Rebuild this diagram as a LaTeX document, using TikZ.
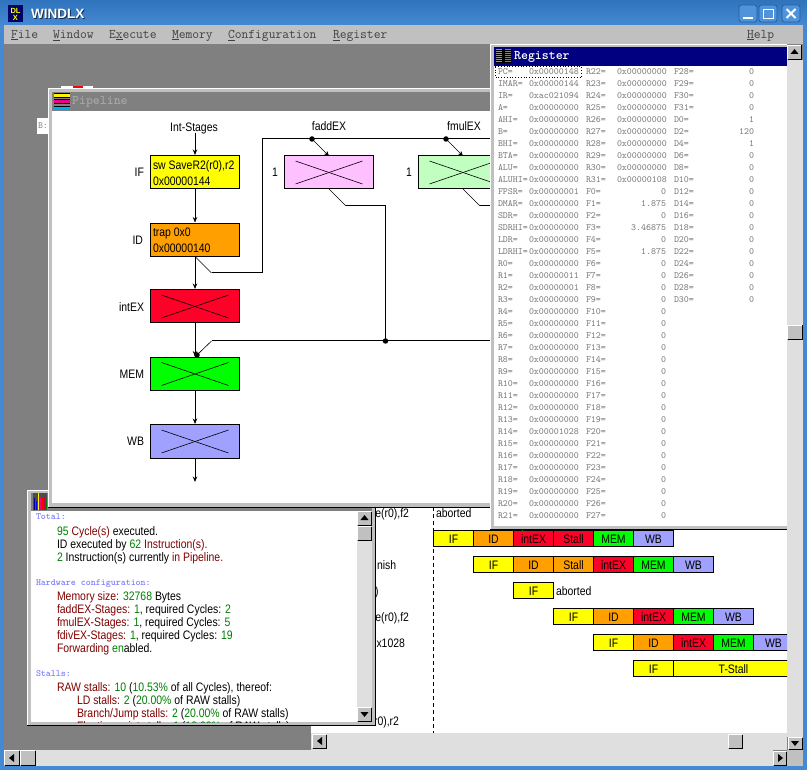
\documentclass[tikz,border=0pt]{standalone}
\usepackage{fontspec}
\setmainfont[FakeStretch=0.85]{Liberation Sans}
\newfontfamily\titlefont{Liberation Sans}
\usetikzlibrary{arrows.meta,shapes.geometric}
\definecolor{desk}{HTML}{808080}
\definecolor{face}{HTML}{C0C0C0}
\definecolor{stip}{HTML}{DFDFDF}
\definecolor{cif}{HTML}{FFFF00}
\definecolor{cid}{HTML}{FFA000}
\definecolor{cex}{HTML}{FF0028}
\definecolor{cmem}{HTML}{00FF00}
\definecolor{cwb}{HTML}{A0A0FF}
\definecolor{cadd}{HTML}{FFC0FF}
\definecolor{cmul}{HTML}{C0FFC0}
\definecolor{dg}{HTML}{008000}
\definecolor{dr}{HTML}{800000}
\definecolor{hdr}{HTML}{7C7CFF}
\definecolor{reg}{HTML}{747474}
\definecolor{navy}{HTML}{000080}
\definecolor{tb1}{HTML}{2F73BC}
\definecolor{tb2}{HTML}{4689D3}
\definecolor{tbtn}{HTML}{4F93DC}
\newcommand{\sfz}{\fontsize{12.3}{14}\selectfont}
\newcommand{\regf}{\ttfamily\fontsize{9.5}{11}\selectfont}
\newcommand{\menuf}{\ttfamily\fontsize{13.2}{15}\selectfont}
\newcommand{\grn}[1]{\textcolor{dg}{#1}}
\newcommand{\drd}[1]{\textcolor{dr}{#1}}
\newcommand{\bevel}[4]{%
  \fill[face] (#1,#2) rectangle ++(#3,#4);
  \draw[white,line width=1pt] (#1+.5,#2+#4-1) -- (#1+.5,#2+.5) -- (#1+#3-1,#2+.5);
  \draw[black,line width=1pt] (#1+.5,#2+#4-.5) -- (#1+#3-.5,#2+#4-.5) -- (#1+#3-.5,#2+.5);
}
\tikzset{
  txt/.style={inner sep=0pt,outer sep=0pt,anchor=west,font=\sfz,text height=9pt,text depth=0pt},
  txtr/.style={txt,anchor=east},
  txtc/.style={txt,anchor=center},
  regt/.style={inner sep=0pt,outer sep=0pt,anchor=west,font=\regf,text=reg,text height=5.6pt,text depth=0pt},
  regr/.style={regt,anchor=east},
  hdrt/.style={regt,text=hdr,font=\regf\bfseries},
  menut/.style={inner sep=0pt,outer sep=0pt,anchor=west,font=\menuf,text=black!75,text height=6.5pt,text depth=0pt},
  pipebox/.style={draw=black,line width=1pt,minimum width=89pt,minimum height=33pt,inner sep=0pt,outer sep=0pt,anchor=center},
  crossed/.style={path picture={
    \draw[line width=.6pt] ([shift={(11,5)}]path picture bounding box.north west) -- ([shift={(-11,-5)}]path picture bounding box.south east);
    \draw[line width=.6pt] ([shift={(11,-5)}]path picture bounding box.south west) -- ([shift={(-11,5)}]path picture bounding box.north east);}},
  flow/.style={line width=1pt,-{Stealth[length=5.5pt,width=4.5pt]},shorten >=1pt},
  bus/.style={line width=1pt},
  thin diag/.style={line width=.6pt},
  tap/.style={line width=.6pt,-{Stealth[length=5pt,width=4.5pt]}},
  junc/.style={circle,fill=black,inner sep=0pt,minimum size=5.5pt,outer sep=0pt},
  cell/.style={draw=black,line width=1pt,minimum height=16pt,inner sep=0pt,outer sep=0pt,anchor=north west,font=\sfz,text height=9pt,text depth=0pt},
}
\begin{document}
\begin{tikzpicture}[x=1pt,y=-1pt]
\useasboundingbox (0,0) rectangle (807,770);
% main window frame
\fill[tb2] (0,0) rectangle (807,770);
\shade[top color=tb1,bottom color=tb2] (0,0) rectangle (807,25);
\fill[desk] (4,44) rectangle (803,766);
\fill[face] (4,25) rectangle (803,44);
% title
\node[inner sep=0pt,anchor=west,font=\titlefont\bfseries\fontsize{13.5}{15}\selectfont,text=black!60!tb1,text height=9.5pt,text depth=0pt] (titleshadow) at (32,14.5) {WINDLX};
\node[inner sep=0pt,anchor=west,font=\titlefont\bfseries\fontsize{13.5}{15}\selectfont,text=white,text height=9.5pt,text depth=0pt] (titletext) at (31,13.5) {WINDLX};
% app icon
\fill[navy!80!black] (8,5) rectangle (23,22);
\node[inner sep=0pt,font=\titlefont\bfseries\fontsize{7.5}{8}\selectfont,text=cif] (icdl) at (15.5,10.5) {DL};
\node[inner sep=0pt,font=\titlefont\bfseries\fontsize{7.5}{8}\selectfont,text=cif] (icx) at (15.5,17.5) {X};
% window buttons
\foreach \bx in {739,759,782}{\draw[tb1!80!black,fill=tbtn,rounded corners=2.5pt,line width=.7pt] (\bx,5) rectangle ++(18,17);}
\fill[white] (743,17) rectangle (753,19);
\draw[white,line width=1pt] (763.5,9.5) rectangle (773.5,18.5);
\draw[white,line width=1.3pt] (763.5,9.5) -- (773.5,9.5);
\draw[white,line width=2pt] (786.5,9) -- (795.5,18) (795.5,9) -- (786.5,18);
% menu
\node[menut] (mfile) at (11,35) {\underline{F}ile};
\node[menut] (mwin) at (53,35) {\underline{W}indow};
\node[menut] (mexe) at (109,35) {E\underline{x}ecute};
\node[menut] (mmem) at (172,35) {\underline{M}emory};
\node[menut] (mconf) at (228,35) {\underline{C}onfiguration};
\node[menut] (mreg) at (333,35) {\underline{R}egister};
\node[menut] (mhelp) at (747,35) {\underline{H}elp};
% MDI scrollbars
\fill[stip] (787,60) rectangle (803,737);
\bevel{787}{45}{15}{15}
\fill[black] (794.5,49) -- (798.5,54) -- (790.5,54) -- cycle;
\bevel{787}{325}{16}{15}
\bevel{788}{737}{15}{13}
\fill[black] (791,741) -- (799,741) -- (795,746) -- cycle;
\fill[stip] (4,750) rectangle (773,766);
\bevel{4}{750}{16}{16}
\fill[black] (9,758) -- (14,754) -- (14,762) -- cycle;
\bevel{20}{750}{16}{16}
\bevel{773}{751}{14}{15}
\fill[black] (778,754) -- (778,762) -- (783,758) -- cycle;
\fill[face] (787,750) rectangle (803,766);
% windows behind the Pipeline window
\fill[white] (61,86) rectangle (93,90);
\fill[red] (73,86) rectangle (83,88);
\fill[white] (37,118) rectangle (50,134);
\node[regt,text=black!50] (bcrumb) at (38,125.5) {B:};
% clock-cycle window
\fill[white] (311,480) rectangle (787,733);
\fill[stip] (311,733) rectangle (787,750);
\bevel{312}{734}{15}{15}
\fill[black] (322,737) -- (322,745) -- (317,741) -- cycle;
\bevel{728}{734}{15}{15}
\draw[black,line width=1pt,dash pattern=on 4pt off 3pt] (433.5,507) -- (433.5,733);
\node[txtr] (lab1) at (409,513) {e(r0),f2};
\node[txt] (ab1) at (436,513) {aborted};
\node[txt] (lab2) at (377,565) {nish};
\node[txt] (lab3) at (375,591) {)};
\node[txtr] (lab4) at (409,617) {e(r0),f2};
\node[txtr] (lab5) at (405,643) {x1028};
\node[txtr] (lab6) at (399,721) {r0),r2};
\begin{scope}
\clip (311,505) rectangle (787,733);
\foreach \cx/\cy/\ct/\cc [count=\n] in {
  433/530/IF/cif,473/530/ID/cid,513/530/intEX/cex,553/530/Stall/cex,593/530/MEM/cmem,633/530/WB/cwb,
  473/556/IF/cif,513/556/ID/cid,553/556/Stall/cid,593/556/intEX/cex,633/556/MEM/cmem,673/556/WB/cwb,
  513/582/IF/cif,
  553/608/IF/cif,593/608/ID/cid,633/608/intEX/cex,673/608/MEM/cmem,713/608/WB/cwb,
  593/634/IF/cif,633/634/ID/cid,673/634/intEX/cex,713/634/MEM/cmem,753/634/WB/cwb,
  633/660/IF/cif}{
  \node[cell,fill=\cc,minimum width=40pt] (cell\n) at (\cx.5,\cy.5) {\ct};
}
\node[cell,fill=cif,minimum width=120pt] (tstall) at (673.5,660.5) {T-Stall};
\end{scope}
\node[txt] (ab2) at (556,591) {aborted};
% statistics window
\fill[face] (27,490) rectangle (375,725);
\draw[white,line width=1pt] (27.5,725) -- (27.5,490.5) -- (375,490.5);
\draw[black,line width=1pt] (27,725.5) -- (375.5,725.5) -- (375.5,490);
\fill[desk] (31,493) rectangle (372,511);
\fill[white] (31,511) rectangle (357,722);
\fill[black!70] (33,493) rectangle (47,510);
\foreach \sx/\sy/\sc in {34/498/navy,36/501/blue,38/493/yellow,40/497/magenta,42/497/red,44/497/purple,46/500/dg}{
  \fill[\sc] (\sx,\sy) rectangle (\sx+1.3,510);
}
\fill[stip] (357,526) rectangle (372,707);
\bevel{357}{511}{15}{15}
\fill[black] (364.5,515) -- (368.5,520) -- (360.5,520) -- cycle;
\bevel{357}{526}{15}{15}
\bevel{357}{707}{15}{15}
\fill[black] (360.5,712) -- (368.5,712) -- (364.5,717) -- cycle;
\begin{scope}
\clip (31,511) rectangle (357,722);
\node[hdrt] (s1) at (36,517) {Total:};
\node[txt] (s2) at (57,531) {\grn{95} \drd{Cycle(s)} executed.};
\node[txt] (s3) at (57,544) {ID executed by \grn{62} \drd{Instruction(s).}};
\node[txt] (s4) at (57,557) {\grn{2} Instruction(s) currently \drd{in Pipeline.}};
\node[hdrt] (s5) at (36,582.5) {Hardware configuration:};
\node[txt] (s6) at (57,596) {\drd{Memory size:} \grn{32768} Bytes};
\node[txt] (s7) at (57,609) {\drd{faddEX-Stages:} \grn{1}, required Cycles: \grn{2}};
\node[txt] (s8) at (57,622) {\drd{fmulEX-Stages:} \grn{1}, required Cycles: \grn{5}};
\node[txt] (s9) at (57,635) {\drd{fdivEX-Stages:} \grn{1}, required Cycles: \grn{19}};
\node[txt] (s10) at (57,648) {\drd{Forwarding} \grn{en}abled.};
\node[hdrt] (s11) at (36,673.5) {Stalls:};
\node[txt] (s12) at (57,687) {\drd{RAW stalls:} \grn{10} (\grn{10.53\%} of all Cycles), thereof:};
\node[txt] (s13) at (77,700) {\drd{LD stalls:} \grn{2} (\grn{20.00\%} of RAW stalls)};
\node[txt] (s14) at (77,713) {\drd{Branch/Jump stalls:} \grn{2} (\grn{20.00\%} of RAW stalls)};
\node[txt] (s15) at (77,726) {\drd{Floating point stalls:} \grn{1} (\grn{10.00\%} of RAW stalls)};
\end{scope}
% Pipeline window
\fill[face] (48,88) rectangle (495,507);
\draw[white,line width=1pt] (48.5,507) -- (48.5,88.5) -- (495,88.5);
\draw[black,line width=1pt] (48,507.5) -- (495,507.5);
\fill[desk] (52,92) rectangle (495,111);
\fill[white] (52,111) rectangle (495,503);
\fill[yellow] (54,93) rectangle (70,97);
\draw[black,line width=.6pt] (54,93) -- (70,93);
\fill[magenta] (54,99) rectangle (70,103);
\draw[black,line width=.6pt] (54,99) -- (70,99) (54,103) -- (70,103) (54,97) -- (70,97);
\fill[cyan] (54,106) rectangle (70,109);
\draw[black,line width=.6pt] (54,106) -- (70,106);
\node[inner sep=0pt,anchor=west,font=\ttfamily\bfseries\fontsize{13.2}{15}\selectfont,text=black!35,text height=7pt,text depth=0pt] (pipetitle) at (72,101) {Pipeline};
\begin{scope}
\clip (52,111) rectangle (495,503);
% stage labels
\node[txtc] (hint) at (194,127) {Int-Stages};
\node[txtc] (hadd) at (329,126.5) {faddEX};
\node[txtc] (hmul) at (464,126.5) {fmulEX};
\node[txtr] (lif) at (144,172.5) {IF};
\node[txtr] (lid) at (143,240) {ID};
\node[txtr] (lex) at (144,307.5) {intEX};
\node[txtr] (lmem) at (144,374.5) {MEM};
\node[txtr] (lwb) at (144,441.5) {WB};
\node[txtc] (n1a) at (275,172.5) {1};
\node[txtc] (n1m) at (409,172.5) {1};
% boxes
\node[pipebox,fill=cif] (if) at (195,172.5) {};
\node[pipebox,fill=cid] (id) at (195,240) {};
\node[pipebox,fill=cex,crossed] (ex) at (195,306.5) {};
\node[pipebox,fill=cmem,crossed] (mem) at (195,374) {};
\node[pipebox,fill=cwb,crossed] (wb) at (195,441.5) {};
\node[pipebox,fill=cadd,crossed] (fadd) at (329,172.5) {};
\node[pipebox,fill=cmul,crossed] (fmul) at (463,172.5) {};
\node[txt] (iftx1) at (153,165) {sw SaveR2(r0),r2};
\node[txt] (iftx2) at (153,181.5) {0x00000144};
\node[txt] (idtx1) at (153,232) {trap 0x0};
\node[txt] (idtx2) at (153,248.5) {0x00000140};
% connectors
\coordinate (intop) at (195,133);
\coordinate (wbout) at (195,482);
\coordinate (j1) at (211.5,273);
\coordinate (j2) at (262.5,273);
\coordinate (j3) at (262.5,139);
\coordinate (busr) at (497,139);
\coordinate (d1) at (312,139);
\coordinate (d2) at (446,139);
\coordinate (a1) at (346,206);
\coordinate (a2) at (385.5,206);
\coordinate (d3) at (385.5,341);
\coordinate (m1) at (211.5,341);
\coordinate (m2) at (197,355);
\coordinate (retr) at (497,341);
\coordinate (b1) at (480,206);
\coordinate (b2) at (497,206);
\draw[flow] (intop) -- (if.north);
\draw[flow] (if) -- (id);
\draw[flow] (id) -- (ex);
\draw[flow] (ex) -- (mem);
\draw[flow] (mem) -- (wb);
\draw[flow,shorten >=0pt] (wb) -- (wbout);
\draw[thin diag] (id.south) -- (j1);
\draw[bus] (j1) -- (j2) -- (j3) -- (busr);
\draw[tap] (d1) -- (fadd.north);
\draw[tap] (d2) -- (fmul.north);
\draw[thin diag] (fadd.south) -- (a1);
\draw[bus] (a1) -- (a2) -- (d3);
\draw[thin diag] (fmul.south) -- (b1);
\draw[bus] (b1) -- (b2);
\draw[bus] (retr) -- (m1);
\draw[thin diag] (m1) -- (m2);
\node[junc] (jd1) at (d1) {};
\node[junc] (jd2) at (d2) {};
\node[junc] (jd3) at (d3) {};
\node[junc] (jm) at (m2) {};
\end{scope}
% Register window
\fill[face] (490,44) rectangle (787,529);
\draw[white,line width=1pt] (490.5,529) -- (490.5,44.5) -- (787,44.5);
\draw[black,line width=1pt] (490,529) -- (787,529);
\fill[navy] (494,47) rectangle (787,66);
\fill[white] (494,66) rectangle (787,526);
\fill[black] (496,49) rectangle (511,63);
\foreach \ry in {49.5,51.5,...,62}{
  \fill[cmem] (496,\ry) rectangle (501.5,\ry+1);
  \fill[cyan] (505,\ry) rectangle (511,\ry+1);
}
\node[inner sep=0pt,anchor=west,font=\ttfamily\bfseries\fontsize{13.2}{15}\selectfont,text=white,text height=7pt,text depth=0pt] (regtitle) at (514,56) {Register};
\draw[black,line width=.8pt,dotted] (495,66.8) rectangle (581.5,77.5);
\foreach \la/\va [count=\i from 0] in {
 PC=/0x00000148,IMAR=/0x00000144,IR=/0xac021094,A=/0x00000000,AHI=/0x00000000,B=/0x00000000,BHI=/0x00000000,BTA=/0x00000000,ALU=/0x00000000,ALUHI=/0x00000000,FPSR=/0x00000001,DMAR=/0x00000000,SDR=/0x00000000,SDRHI=/0x00000000,LDR=/0x00000000,LDRHI=/0x00000000,
 R0=/0x00000000,R1=/0x00000011,R2=/0x00000001,R3=/0x00000000,R4=/0x00000000,R5=/0x00000000,R6=/0x00000000,R7=/0x00000000,R8=/0x00000000,R9=/0x00000000,R10=/0x00000000,R11=/0x00000000,R12=/0x00000000,R13=/0x00000000,R14=/0x00001028,R15=/0x00000000,R16=/0x00000000,R17=/0x00000000,R18=/0x00000000,R19=/0x00000000,R20=/0x00000000,R21=/0x00000000}{
  \node[regt] (al\i) at (498,{72+12*\i}) {\la};
  \node[regt] (av\i) at (529,{72+12*\i}) {\va};
}
\foreach \la/\va [count=\i from 0] in {
 R22=/0x00000000,R23=/0x00000000,R24=/0x00000000,R25=/0x00000000,R26=/0x00000000,R27=/0x00000000,R28=/0x00000000,R29=/0x00000000,R30=/0x00000000,R31=/0x00000108}{
  \node[regt] (bl\i) at (586,{72+12*\i}) {\la};
  \node[regt] (bv\i) at (617,{72+12*\i}) {\va};
}
\foreach \la/\va [count=\i from 10] in {
 F0=/0,F1=/1.875,F2=/0,F3=/3.46875,F4=/0,F5=/1.875,F6=/0,F7=/0,F8=/0,F9=/0,F10=/0,F11=/0,F12=/0,F13=/0,F14=/0,F15=/0,F16=/0,F17=/0,F18=/0,F19=/0,F20=/0,F21=/0,F22=/0,F23=/0,F24=/0,F25=/0,F26=/0,F27=/0}{
  \node[regt] (bl\i) at (586,{72+12*\i}) {\la};
  \node[regr] (bv\i) at (666,{72+12*\i}) {\va};
}
\foreach \la/\va [count=\i from 0] in {
 F28=/0,F29=/0,F30=/0,F31=/0,D0=/1,D2=/120,D4=/1,D6=/0,D8=/0,D10=/0,D12=/0,D14=/0,D16=/0,D18=/0,D20=/0,D22=/0,D24=/0,D26=/0,D28=/0,D30=/0}{
  \node[regt] (cl\i) at (674,{72+12*\i}) {\la};
  \node[regr] (cv\i) at (754,{72+12*\i}) {\va};
}
\fill[dg] (522,529.5) rectangle (523,531);
\end{tikzpicture}
\end{document}
